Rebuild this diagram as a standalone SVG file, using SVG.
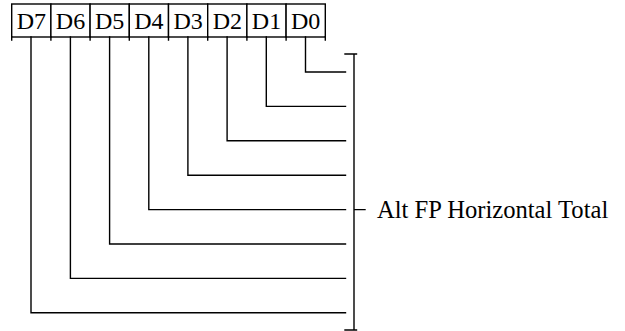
<svg xmlns="http://www.w3.org/2000/svg" width="625" height="331" viewBox="0 0 625 331">
<style>
.ln{stroke:#000;stroke-width:1.4;fill:none;stroke-linecap:square}
.cell{stroke:#000;stroke-width:1.4;fill:#fff}
.t{font-family:"Liberation Serif","Times New Roman",serif;font-size:24px;fill:#000}
.c{text-anchor:middle}
.lbl{font-size:24.6px}
</style>
<rect width="625" height="331" fill="#fff"/>
<g id="register">
<g id="bit-D7"><rect class="cell" x="11.7" y="4" width="39.2" height="33"/><text class="t c" x="31.3" y="29">D7</text></g>
<g id="bit-D6"><rect class="cell" x="50.9" y="4" width="39.2" height="33"/><text class="t c" x="70.5" y="29">D6</text></g>
<g id="bit-D5"><rect class="cell" x="90.1" y="4" width="39.2" height="33"/><text class="t c" x="109.7" y="29">D5</text></g>
<g id="bit-D4"><rect class="cell" x="129.3" y="4" width="39.2" height="33"/><text class="t c" x="148.9" y="29">D4</text></g>
<g id="bit-D3"><rect class="cell" x="168.5" y="4" width="39.2" height="33"/><text class="t c" x="188.1" y="29">D3</text></g>
<g id="bit-D2"><rect class="cell" x="207.7" y="4" width="39.2" height="33"/><text class="t c" x="227.3" y="29">D2</text></g>
<g id="bit-D1"><rect class="cell" x="246.9" y="4" width="39.2" height="33"/><text class="t c" x="266.5" y="29">D1</text></g>
<g id="bit-D0"><rect class="cell" x="286.1" y="4" width="39.2" height="33"/><text class="t c" x="305.7" y="29">D0</text></g>
<path class="ln" d="M11.7 37V40M50.9 37V40M90.1 37V40M129.3 37V40M168.5 37V40M207.7 37V40M246.9 37V40M286.1 37V40M325.3 37V40"/>
</g>
<g id="connectors">
<path class="ln" d="M305.5 37V72H345.5"/>
<path class="ln" d="M266.3 37V106.4H345.5"/>
<path class="ln" d="M227.1 37V140.8H345.5"/>
<path class="ln" d="M187.9 37V175.2H345.5"/>
<path class="ln" d="M148.8 37V209.6H345.5"/>
<path class="ln" d="M109.6 37V244H345.5"/>
<path class="ln" d="M70.4 37V278.4H345.5"/>
<path class="ln" d="M31 37V312.8H345.5"/>
</g>
<g id="bracket">
<path class="ln" d="M345 54H356.5M354 54V330M345 330H356.5M354 209.6H365"/>
<text class="t lbl" x="377" y="217.5">Alt FP Horizontal Total</text>
</g>
</svg>
